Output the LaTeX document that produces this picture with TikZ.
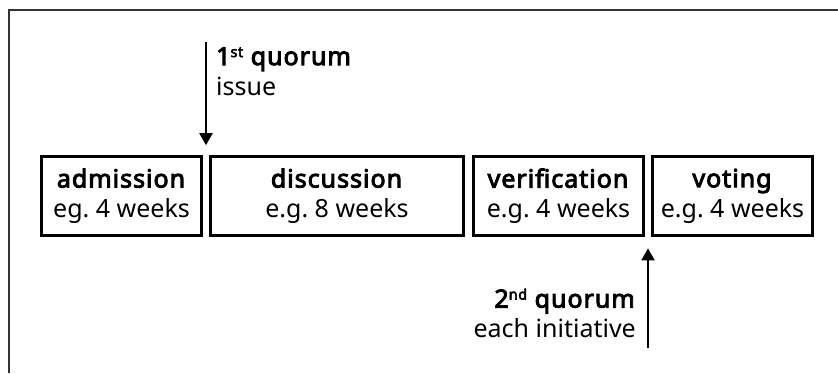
\documentclass[tikz,border=0pt]{standalone}
\usepackage{fontspec}
\setmainfont{Noto Sans}[BoldFont={Noto Sans}, BoldFeatures={FakeBold=3.6, LetterSpace=4}]
\usetikzlibrary{arrows.meta,calc}

\newcommand{\ordsup}[1]{\raisebox{8pt}{\fontsize{14.5}{15}\selectfont #1}}

\tikzset{
  phase/.style={draw, line width=2.6pt, minimum height=79pt, inner sep=0pt,
    align=center, font=\fontsize{25}{30}\selectfont},
  quorum/.style={line width=2pt, -{Triangle[width=13pt,length=12pt]}},
  note/.style={inner sep=0pt, font=\fontsize{25}{30}\selectfont},
}

\begin{document}
\frenchspacing
\begin{tikzpicture}[x=1pt,y=-1pt]
\useasboundingbox (0,0) rectangle (838,373);
% frame, cut off at the right and at the bottom
\draw[line width=1.3pt, black!80] (9,373) -- (9,10) -- (838,10);

% phases
\node[phase, minimum width=160pt] (adm) at (121.5,196) {\textbf{admission}\\eg. 4 weeks};
\node[phase, minimum width=253pt] (disc) at (337,196) {\textbf{discussion}\\e.g. 8 weeks};
\node[phase, minimum width=170pt] (verif) at (558.5,196) {\textbf{verification}\\e.g. 4 weeks};
\node[phase, minimum width=160pt] (vote) at (732.5,196) {\textbf{voting}\\e.g. 4 weeks};

% first quorum
\coordinate (q1end) at ($(adm.north east)!.5!(disc.north west)+(0,-10)$);
\coordinate (q1start) at (q1end |- 0,42);
\draw[quorum] (q1start) -- (q1end);
\node[note, anchor=north west, align=left] (q1lbl) at ([shift={(10,5)}]q1start)
  {\textbf{1\ordsup{st} quorum}\\issue};

% second quorum
\coordinate (q2end) at ($(verif.south east)!.5!(vote.south west)+(0,11.5)$);
\coordinate (q2start) at (q2end |- 0,348);
\draw[quorum] (q2start) -- (q2end);
\node[note, anchor=south east, align=right] (q2lbl) at ([shift={(-12,-10)}]q2start)
  {\textbf{2\ordsup{nd} quorum}\\each initiative};
\end{tikzpicture}
\end{document}
